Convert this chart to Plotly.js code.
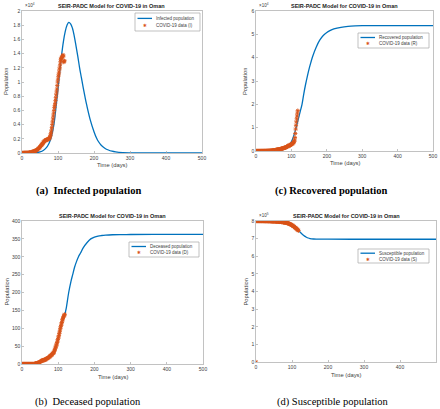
<!DOCTYPE html>
<html>
<head>
<meta charset="utf-8">
<script src="https://cdn.plot.ly/plotly-3.0.1.min.js"></script>
<style>
html,body{margin:0;padding:0;background:#fff;}
#chart{width:440px;height:409px;}
</style>
</head>
<body>
<div id="chart"></div>
<script>
// ---------------- DATA ----------------
const chartTitle = "SEIR-PADC Model for COVID-19 in Oman";
const xTitle = "Time (days)";
const yTitle = "Population";
const captions = ["(a)  Infected population", "(c) Recovered population", "(b)  Deceased population", "(d) Susceptible population"];

// Observed data, one value per day starting at day 0
const infectedData = [0,
  1,3,4,5,6,12,15,16,16,16,
  18,18,17,18,19,22,24,33,39,46,
  48,52,55,66,84,99,109,131,152,179,
  190,205,220,240,260,280,300,330,360,390,
  420,450,490,530,580,630,680,740,800,860,
  920,980,1040,1100,1170,1240,1310,1380,1450,1520,
  1590,1650,1700,1740,1780,1810,1830,1850,1870,1890,
  1910,1930,1960,1990,2020,2070,2150,2300,2500,2700,
  2950,3250,3600,4000,4400,4800,5200,5600,6000,6400,
  6700,7000,7400,7800,8200,8600,9000,9500,10000,10400,
  10800,11100,11400,11800,12100,12500,12900,13200,13300,13400,
  13500,13600,13700,13800,13650,12800,12900,13000];
const recoveredData = [0,
  0,0,1,2,2,2,2,2,2,2,
  3,3,4,9,12,12,13,13,17,17,
  20,23,23,24,27,28,29,34,41,47,
  53,57,61,68,76,84,92,100,110,120,
  130,140,155,170,190,205,225,245,265,290,
  315,340,370,400,430,460,490,520,550,580,
  610,640,670,700,730,760,790,820,860,900,
  940,980,1020,1060,1100,1150,1200,1250,1300,1350,
  1400,1460,1520,1580,1650,1720,1800,1880,1960,2040,
  2120,2200,2280,2360,2440,2520,2600,2680,2760,2850,
  2950,3050,3150,3300,3500,3700,3900,4200,4700,5800,
  7500,9400,11000,12500,13800,15000,16200,17300];
const deceasedData = [0,
  0,0,0,0,0,0,0,0,0,0,
  0,0,0,0,0,0,0,0,0,0,
  0,0,0,0,0,0,0,0,0,0,
  0,0,0,0,0,1,1,1,2,2,
  2,2,3,3,3,4,4,4,5,6,
  7,7,8,9,9,10,10,10,11,11,
  11,12,12,12,13,13,14,15,15,16,
  17,17,18,18,20,20,21,22,23,24,
  25,26,27,28,29,30,31,33,35,38,
  41,44,47,50,53,56,60,64,68,72,
  76,80,85,90,95,100,104,108,112,116,
  120,124,127,130,133,135,137,139];
const susceptibleData = [0,
  799998,799995,799992,799990,799988,799985,799980,799975,799970,799965,
  799960,799955,799950,799940,799930,799920,799910,799900,799885,799870,
  799850,799830,799810,799790,799770,799740,799710,799680,799650,799610,
  799570,799530,799480,799430,799380,799320,799260,799200,799130,799060,
  798990,798910,798830,798740,798650,798550,798450,798340,798230,798110,
  797990,797860,797730,797590,797450,797300,797150,796990,796830,796660,
  796490,796310,796130,795940,795750,795550,795350,795140,794930,794710,
  794480,794240,793990,793730,793450,793150,792830,792480,792100,791690,
  791250,790800,790350,789900,789400,788850,788250,787600,786900,786150,
  785350,784500,783600,782650,781650,780600,779500,778350,777150,775900,
  774600,773250,771850,770400,768900,767350,765750,764100,762400,760650,
  758850,757000,755100,753150,751150,749100,747000,745500];

// Model curves (time in days, population)
const infectedModelT = [0,20,40,50,60,70,75,80,85,90,95,100,105,110,115,120,125,130,135,140,145,150,155,160,165,170,175,180,190,200,207,210,220,230,240,250,260,280,300,350,400,450,500];
const infectedModel  = [0,5,50,150,400,900,1350,2000,3000,4500,6700,9000,11500,13800,15700,17100,18000,18400,18200,17600,16500,15100,13600,12000,10600,9200,7900,6700,4600,3000,2100,1800,1100,680,420,250,150,50,15,0,0,0,0];

const recoveredModelT = [0,40,60,70,80,90,95,100,105,110,115,120,125,130,135,140,145,150,155,160,170,180,190,200,210,220,240,260,280,300,350,400,450,500];
const recoveredModel  = [0,50,200,400,800,1700,2500,4000,5800,8200,11000,14000,17000,20000,24500,28500,32000,35200,38000,40500,44500,47500,49500,50800,51700,52300,53000,53400,53600,53700,53750,53750,53750,53750];

const deceasedModelT = [0,30,40,50,60,70,80,90,100,110,118,122,129,135,140,145,150,156,162,169,180,190,200,210,220,231,250,280,300,400,500];
const deceasedModel  = [0,0,1,5,10,15,22,37,70,114,138,155,200,230,250,270,285,300,311,325,340,350,355,358,359.5,360.5,361.5,362,362.3,362.5,362.5];

const susceptibleModelT = [0,40,60,70,80,90,100,105,110,115,120,125,130,135,140,145,150,160,170,180,200,300,400,500];
const susceptibleModel  = [800000,799300,797000,795000,792000,787000,777500,770500,762000,752500,742000,731500,722000,714000,708000,703500,700500,698000,697200,696800,696600,696500,696500,696500];

// Legend labels
const lineNames = ["Infected population", "Recovered population", "Deceased population", "Susceptible population"];
const dataNames = ["COVID-19 data (I)", "COVID-19 data (R)", "COVID-19 data (D)", "COVID-19 data (S)"];

// Axis ticks
const xTicks = [0,100,200,300,400,500];
const yTicksI = [0,2000,4000,6000,8000,10000,12000,14000,16000,18000,20000];
const yTextI  = ["0","0.2","0.4","0.6","0.8","1","1.2","1.4","1.6","1.8","2"];
const yTicksR = [0,10000,20000,30000,40000,50000,60000];
const yTextR  = ["0","1","2","3","4","5","6"];
const yTicksD = [0,50,100,150,200,250,300,350,400];
const yTicksS = [0,100000,200000,300000,400000,500000,600000,700000,800000];
const yTextS  = ["0","1","2","3","4","5","6","7","8"];

// ---------------- LAYOUT HELPERS ----------------
const W = 440, H = 409;
const px = v => v / W;
const py = v => 1 - v / H;
const dataDays = infectedData.map((_, i) => i);

const lineColor = "#0072BD";
const markColor = "#D95319";
const axisGray = "#a8a8a8";
const font = "Liberation Sans, Arial, sans-serif";

// panel boxes in pixels: [left, top, right, bottom]
const boxes = [
  [22, 11, 202, 153],   // a  infected
  [256, 11, 433, 151],  // c  recovered
  [22, 221, 203, 364],  // b  deceased
  [256, 221, 436, 362]  // d  susceptible
];
const series = [
  {mt: infectedModelT, mv: infectedModel, dv: infectedData, yr: [0,20000], tv: yTicksI, tt: yTextI, exp: "×10<sup>4</sup>"},
  {mt: recoveredModelT, mv: recoveredModel, dv: recoveredData, yr: [0,60000], tv: yTicksR, tt: yTextR, exp: "×10<sup>4</sup>"},
  {mt: deceasedModelT, mv: deceasedModel, dv: deceasedData, yr: [0,400], tv: yTicksD, tt: yTicksD.map(String), exp: null},
  {mt: susceptibleModelT, mv: susceptibleModel, dv: susceptibleData, yr: [0,800000], tv: yTicksS, tt: yTextS, exp: "×10<sup>5</sup>"}
];
// legend boxes in pixels: [left, top, right, bottom]
const legendBoxes = [[135, 13, 200, 31], [358, 33, 429, 48], [129, 242, 199, 257], [358, 249, 429, 263]];
const captionPos = [[88, 191, true], [331, 191, true], [88, 402, false], [333, 402, false]];
const xTitleY = [165, 163, 377, 375];
const yTitleX = [6, 245, 6, 245];

const traces = [];
const layout = {
  width: W, height: H,
  margin: {l:0, r:0, t:0, b:0},
  paper_bgcolor: "#fff", plot_bgcolor: "#fff",
  showlegend: false,
  font: {family: font, color: "#404040", size: 5},
  annotations: [],
  shapes: []
};

series.forEach((s, k) => {
  const n = k + 1;
  const xa = "x" + (n === 1 ? "" : n), ya = "y" + (n === 1 ? "" : n);
  traces.push({
    x: s.mt, y: s.mv, type: "scatter", mode: "lines",
    line: {color: lineColor, width: 1.3, shape: "spline", smoothing: 1},
    name: lineNames[k], xaxis: xa, yaxis: ya
  });
  traces.push({
    x: dataDays, y: s.dv, type: "scatter", mode: "markers",
    marker: {symbol: "asterisk-open", size: 3.5, color: markColor, line: {color: markColor, width: 0.9}},
    name: dataNames[k], xaxis: xa, yaxis: ya
  });
  const b = boxes[k];
  const axCommon = {
    showline: true, mirror: true, linecolor: axisGray, linewidth: 0.7,
    ticks: "inside", ticklen: 2, tickcolor: axisGray, tickwidth: 0.7,
    showgrid: false, zeroline: false,
    tickfont: {size: 5, color: "#404040", family: font}
  };
  layout["xaxis" + (n === 1 ? "" : n)] = Object.assign({}, axCommon, {
    domain: [px(b[0]), px(b[2])], range: [0, 500], tickvals: xTicks,
    anchor: ya
  });
  layout["yaxis" + (n === 1 ? "" : n)] = Object.assign({}, axCommon, {
    domain: [py(b[3]), py(b[1])], range: s.yr, tickvals: s.tv, ticktext: s.tt,
    anchor: xa
  });
  // title
  layout.annotations.push({
    text: "<b>" + chartTitle + "</b>", xref: "paper", yref: "paper",
    x: px((b[0] + b[2]) / 2), y: py(b[1] - 5), xanchor: "center", yanchor: "middle",
    showarrow: false, font: {size: 5.5, color: "#222", family: font}
  });
  // x title
  layout.annotations.push({
    text: xTitle, xref: "paper", yref: "paper",
    x: px((b[0] + b[2]) / 2), y: py(xTitleY[k]), xanchor: "center", yanchor: "middle",
    showarrow: false, font: {size: 5.8, color: "#404040", family: font}
  });
  // y title
  layout.annotations.push({
    text: yTitle, xref: "paper", yref: "paper", textangle: -90,
    x: px(yTitleX[k]), y: py((b[1] + b[3]) / 2), xanchor: "center", yanchor: "middle",
    showarrow: false, font: {size: 5.8, color: "#404040", family: font}
  });
  if (s.exp) {
    layout.annotations.push({
      text: s.exp, xref: "paper", yref: "paper",
      x: px(b[0] + 1), y: py(b[1] - 1), xanchor: "left", yanchor: "bottom",
      showarrow: false, font: {size: 4.5, color: "#404040", family: font}
    });
  }
  // legend (drawn by hand so it can be as compact as the reference)
  const L = legendBoxes[k];
  const r1 = L[1] + (L[3] - L[1]) * 0.3, r2 = L[1] + (L[3] - L[1]) * 0.72;
  const sx0 = L[0] + 2.5, sx1 = L[0] + 17, tx = L[0] + 19;
  layout.shapes.push({type: "rect", xref: "paper", yref: "paper",
    x0: px(L[0]), x1: px(L[2]), y0: py(L[3]), y1: py(L[1]),
    line: {color: axisGray, width: 0.7}, fillcolor: "#fff", layer: "above"});
  layout.shapes.push({type: "line", xref: "paper", yref: "paper",
    x0: px(sx0), x1: px(sx1), y0: py(r1), y1: py(r1),
    line: {color: lineColor, width: 1.3}, layer: "above"});
  layout.annotations.push({
    text: "✱", xref: "paper", yref: "paper",
    x: px((sx0 + sx1) / 2), y: py(r2), xanchor: "center", yanchor: "middle",
    showarrow: false, font: {size: 4.5, color: markColor, family: "DejaVu Sans"}
  });
  [[lineNames[k], r1], [dataNames[k], r2]].forEach(([t, ry]) => {
    layout.annotations.push({
      text: t, xref: "paper", yref: "paper",
      x: px(tx), y: py(ry), xanchor: "left", yanchor: "middle",
      showarrow: false, font: {size: 4.5, color: "#404040", family: font}
    });
  });
  const c = captionPos[k];
  layout.annotations.push({
    text: c[2] ? "<b>" + captions[k] + "</b>" : captions[k], xref: "paper", yref: "paper",
    x: px(c[0]), y: py(c[1]), xanchor: "center", yanchor: "middle",
    showarrow: false, font: {size: 10.5, color: "#000", family: "Liberation Serif, Times New Roman, serif"}
  });
});

Plotly.newPlot("chart", traces, layout, {staticPlot: true, displayModeBar: false});
</script>
</body>
</html>
